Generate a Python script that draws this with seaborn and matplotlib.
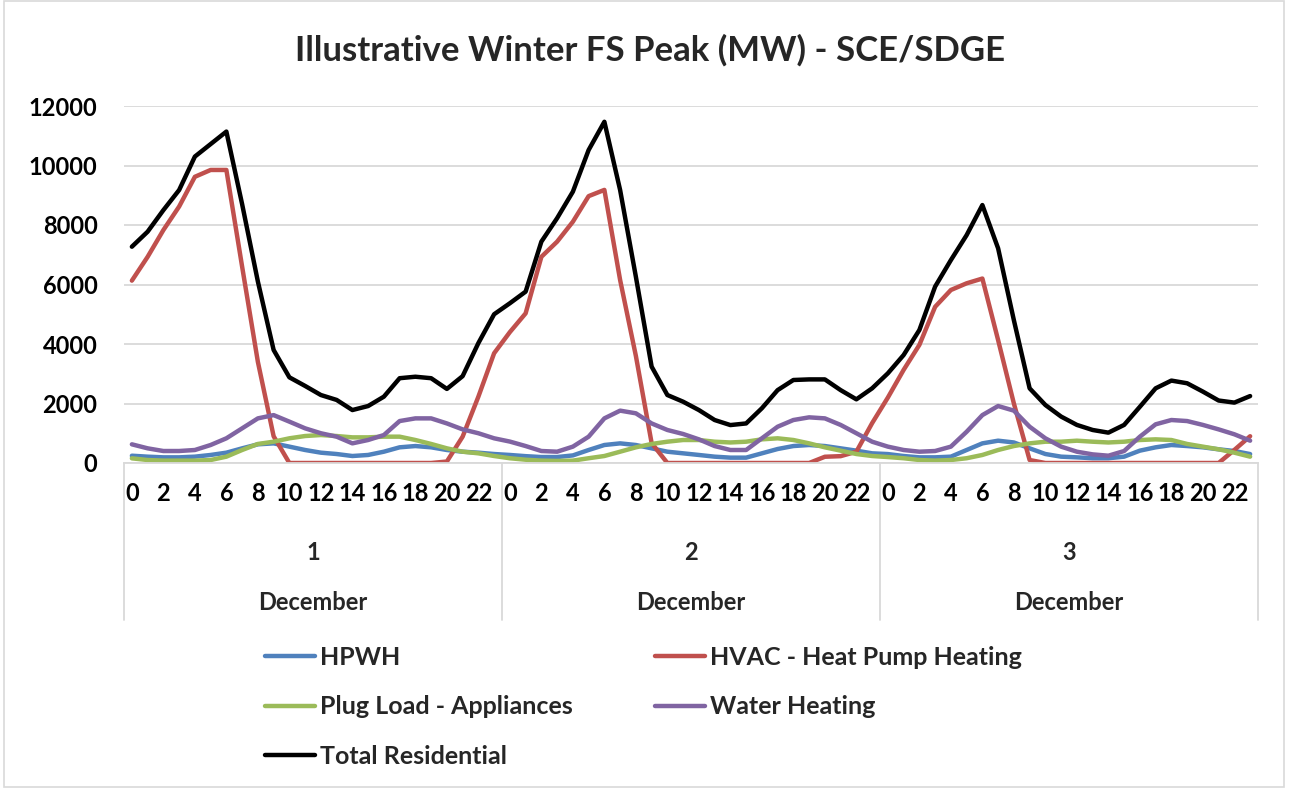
import numpy as np
import pandas as pd
import matplotlib
matplotlib.use("Agg")
import matplotlib.pyplot as plt
from matplotlib.patches import Rectangle
from matplotlib.lines import Line2D
from matplotlib.transforms import blended_transform_factory
import seaborn as sns

# ---- data (MW), hourly for three December days ----
hours = list(range(24))
days = ["1", "2", "3"]
month = "December"
series_names = ["HPWH", "HVAC - Heat Pump Heating", "Plug Load - Appliances",
                "Water Heating", "Total Residential"]

hpwh = [245, 213, 190, 190, 213, 270, 347, 493, 628, 660, 550, 437,
        347, 302, 235, 270, 380, 527, 570, 527, 437, 380, 347, 302,
        270, 230, 200, 200, 255, 437, 605, 660, 605, 493, 380, 325,
        270, 213, 180, 180, 325, 470, 570, 605, 570, 493, 415, 325,
        300, 235, 190, 190, 213, 437, 660, 750, 690, 493, 302, 213,
        190, 160, 160, 213, 415, 527, 605, 570, 527, 460, 403, 300]

hvac = [6130, 6930, 7830, 8620, 9620, 9850, 9850, 6600, 3400, 900, 0, 0,
        0, 0, 0, 0, 0, 0, 0, 0, 50, 885, 2230, 3690,
        4400, 5030, 6930, 7440, 8110, 8970, 9180, 6150, 3600, 670, 0, 0,
        0, 0, 0, 0, 0, 0, 0, 0, 210, 230, 380, 1340,
        2200, 3130, 3970, 5250, 5815, 6040, 6200, 4130, 2000, 100, 0, 0,
        0, 0, 0, 0, 0, 0, 0, 0, 0, 0, 440, 900]

plug = [157, 100, 80, 80, 80, 100, 213, 437, 640, 716, 830, 907,
        940, 907, 862, 862, 885, 885, 773, 640, 493, 380, 325, 235,
        160, 110, 80, 70, 80, 160, 235, 380, 527, 640, 716, 773,
        773, 716, 690, 716, 795, 830, 773, 660, 527, 415, 302, 235,
        200, 160, 100, 80, 100, 160, 270, 437, 570, 660, 716, 716,
        750, 716, 690, 716, 773, 795, 773, 640, 550, 460, 347, 213]

water = [628, 493, 403, 403, 437, 605, 830, 1165, 1500, 1610, 1390, 1165,
         1000, 885, 660, 773, 940, 1410, 1500, 1500, 1330, 1130, 1000, 830,
         720, 570, 403, 380, 550, 885, 1500, 1760, 1670, 1330, 1110, 975,
         795, 570, 437, 437, 830, 1220, 1445, 1535, 1500, 1280, 1000, 716,
         550, 437, 380, 403, 550, 1050, 1610, 1915, 1760, 1220, 830, 550,
         380, 290, 245, 403, 885, 1300, 1445, 1410, 1280, 1130, 965, 750]

total = [7270, 7775, 8500, 9175, 10300, 10720, 11140, 8700, 6100, 3800, 2880, 2590,
         2285, 2120, 1780, 1915, 2230, 2850, 2900, 2850, 2490, 2920, 4030, 5000,
         5370, 5760, 7440, 8230, 9120, 10520, 11470, 9175, 6260, 3240, 2285, 2060,
         1780, 1445, 1275, 1330, 1840, 2450, 2790, 2810, 2810, 2450, 2140, 2510,
         3015, 3630, 4470, 5930, 6820, 7660, 8670, 7215, 4800, 2510, 1950, 1560,
         1280, 1110, 1020, 1280, 1890, 2510, 2770, 2680, 2400, 2100, 2030, 2250]

colors = ["#4F81BD", "#C0504D", "#9BBB59", "#8064A2", "#000000"]

# ---- long-form table ----
n = len(days) * len(hours)
idx = np.arange(n)
frames = []
for name, vals in zip(series_names, [hpwh, hvac, plug, water, total]):
    frames.append(pd.DataFrame({"idx": idx, "MW": vals, "series": name}))
df = pd.concat(frames, ignore_index=True)

# ---- figure ----
sns.set_theme(style="white")
FONT = ["Lato", "DejaVu Sans"]
plt.rcParams["font.family"] = FONT
plt.rcParams["font.weight"] = "bold"

W, H = 1290, 793
fig = plt.figure(figsize=(W / 100, H / 100), dpi=100)
fig.patch.set_facecolor("white")
ax = fig.add_axes([124 / W, 1 - 463 / H, (1258 - 124) / W, (463 - 106) / H])

sns.lineplot(data=df, x="idx", y="MW", hue="series", hue_order=series_names,
             palette=colors, linewidth=3.2, legend=False, ax=ax, sort=False)

TICK_FS = 17
ax.set_xlim(-0.5, n - 0.5)
ax.set_ylim(0, 12000)
ax.set_yticks(range(0, 12001, 2000))
ax.set_yticklabels([str(v) for v in range(0, 12001, 2000)],
                   fontsize=TICK_FS, fontweight="bold", color="black")
ax.set_xticks(idx[::2])
ax.set_xticklabels([str(hours[i % 24]) for i in idx[::2]],
                   fontsize=TICK_FS, fontweight="bold", color="black")
ax.tick_params(axis="x", length=0, pad=14)
ax.tick_params(axis="y", length=0, pad=19)
ax.set_xlabel("")
ax.set_ylabel("")
ax.grid(axis="y", color="#D9D9D9", linewidth=1.3)
ax.grid(axis="x", visible=False)
for side in ["top", "right", "left"]:
    ax.spines[side].set_visible(False)
ax.spines["bottom"].set_color("#D9D9D9")
ax.spines["bottom"].set_linewidth(1.3)

# ---- multi-level category axis (day / month) ----
trans = blended_transform_factory(ax.transData, fig.transFigure)
y_axis = 1 - 463 / H
y_bottom = 1 - 620 / H
for b in np.arange(0, n + 1, 24) - 0.5:
    fig.add_artist(Line2D([b, b], [y_axis, y_bottom], transform=trans,
                          color="#D9D9D9", linewidth=1.3))
for k, d in enumerate(days):
    cx = k * 24 + 11.5
    fig.text(cx, 1 - 552 / H, d, transform=trans, ha="center", va="center",
             fontsize=TICK_FS, fontweight="bold")
    fig.text(cx, 1 - 603 / H, month, transform=trans, ha="center", va="center",
             fontsize=TICK_FS, fontweight="bold")

# ---- title ----
fig.text(650 / W, 1 - 50 / H, "Illustrative Winter FS Peak (MW) - SCE/SDGE",
         ha="center", va="center", fontsize=25, fontweight="bold")

# ---- legend (row-major order in two columns) ----
lines = ax.get_lines()[:len(series_names)]
order = [0, 2, 4, 1, 3]
leg = fig.legend([lines[i] for i in order], [series_names[i] for i in order],
                 ncol=2, loc="upper left", bbox_to_anchor=(265 / W, 1 - 646 / H),
                 frameon=False, handlelength=2.0, handletextpad=0.2,
                 columnspacing=3.3, labelspacing=1.05, borderpad=0, borderaxespad=0,
                 prop={"weight": "bold", "size": 18})

# ---- outer chart border ----
fig.add_artist(Rectangle((4 / W, 6 / H), 1280 / W, 786 / H, transform=fig.transFigure,
                         fill=False, edgecolor="#D9D9D9", linewidth=1.2))

fig.savefig("out.png", dpi=100, facecolor="white")
